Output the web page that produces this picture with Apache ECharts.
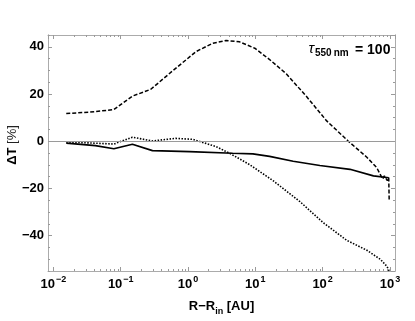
<!DOCTYPE html>
<html><head><meta charset="utf-8">
<script src="https://cdn.jsdelivr.net/npm/echarts@6/dist/echarts.min.js"></script>
<style>html,body{margin:0;padding:0;background:#fff}#c{width:415px;height:321px}</style>
</head><body><div id="c"></div>
<script>
// ---- data ----
const dashedX = [0.0155, 0.034, 0.079, 0.149, 0.28, 0.59, 1.32, 2.33, 3.69, 5.83, 9.8, 16.3, 29, 57.7, 115, 241, 454, 637, 713, 782, 826, 915, 960, 975];
const dashedY = [11.7, 12.3, 13.4, 19.1, 22.0, 29.8, 38.0, 41.5, 42.7, 42.1, 39.4, 34.6, 28.5, 18.9, 8.6, 0, -6.8, -11.2, -13.9, -16.0, -14.7, -16.7, -15.4, -24.9];

const solidX = [0.0155, 0.042, 0.079, 0.149, 0.296, 1.05, 4.6, 9.2, 16.3, 36.5, 91, 255, 569, 960];
const solidY = [-0.8, -1.9, -3.2, -1.3, -4.0, -4.4, -5.1, -5.4, -6.4, -8.5, -10.3, -11.9, -14.7, -15.5];

const dottedX = [0.0155, 0.079, 0.149, 0.296, 0.66, 1.17, 2.62, 4.13, 5.83, 8.2, 18.3, 46, 102, 228, 454, 717, 902, 975];
const dottedY = [-0.3, -1.2, 1.7, 0.1, 1.2, 0.8, -2.3, -5.1, -7.5, -9.9, -16.7, -25.6, -34.5, -42, -46.2, -50, -53, -55];

const xMajorTicks = [0.01, 0.1, 1, 10, 100, 1000];
const xMinorTicks = [];
xMajorTicks.forEach(d => { for (let k = 2; k <= 9; k++) xMinorTicks.push(+(k * d).toPrecision(3)); });
const yTickLabels = [-40, -20, 0, 20, 40];

const xMin = 0.0083, xMax = 1190;
const yMin = -55, yMax = 45;

const FONT = "'Liberation Sans', Arial, Helvetica, sans-serif";
const frameColor = '#ababab';
const tickColor = '#9a9a9a';

function pairs(xs, ys) { return xs.map((x, i) => [x, ys[i]]); }

const chart = echarts.init(document.getElementById('c'), null, {renderer: 'canvas'});

const supRich = {
  b: {fontFamily: FONT, fontWeight: 'bold', fontSize: 13, color: '#000', lineHeight: 16, verticalAlign: 'bottom'},
  s: {fontFamily: FONT, fontWeight: 'bold', fontSize: 9, color: '#000', lineHeight: 16, verticalAlign: 'top', padding: [0, 0, 0, 1]}
};

function xLabel(v) {
  const e = Math.log10(v);
  const r = Math.round(e);
  if (Math.abs(e - r) > 1e-6) return '';
  const es = r < 0 ? '\u2212' + (-r) : String(r);
  return '{b|10}{s|' + es + '}';
}

const tickAxisCommon = {
  axisLine: {show: true, onZero: false, lineStyle: {color: frameColor, width: 1}},
  splitLine: {show: false}
};

const option = {
  animation: false,
  backgroundColor: '#fff',
  grid: {left: 48, right: 20, top: 35, bottom: 41, containLabel: false},
  xAxis: [
    Object.assign({
      type: 'log', logBase: 10, min: xMin, max: xMax, position: 'bottom',
      axisTick: {show: true, inside: true, length: 4, lineStyle: {color: tickColor}},
      axisLabel: {formatter: xLabel, rich: supRich, margin: 4, showMinLabel: false, showMaxLabel: false, hideOverlap: false},
      name: '{a|R\u2212R}{s|in}{a| [AU]}', nameLocation: 'middle', nameGap: 29,
      nameTextStyle: {rich: {
        a: {fontFamily: FONT, fontWeight: 'bold', fontSize: 13, color: '#000', lineHeight: 16, verticalAlign: 'top'},
        s: {fontFamily: FONT, fontWeight: 'bold', fontSize: 9, color: '#000', lineHeight: 16, verticalAlign: 'bottom'}
      }}
    }, tickAxisCommon),
    Object.assign({
      type: 'log', logBase: 10, min: xMin, max: xMax, position: 'top',
      axisTick: {show: true, inside: true, length: 4, lineStyle: {color: tickColor}},
      axisLabel: {show: false}
    }, tickAxisCommon)
  ],
  yAxis: [
    Object.assign({
      type: 'value', min: yMin, max: yMax, splitNumber: 5, position: 'left',
      axisTick: {show: true, inside: true, length: 4, lineStyle: {color: tickColor}},
      axisLabel: {
        showMinLabel: false, showMaxLabel: false, margin: 4,
        fontFamily: FONT, fontWeight: 'bold', fontSize: 13, color: '#000',
        formatter: v => yTickLabels.indexOf(v) >= 0 ? (v < 0 ? '\u2212' + (-v) : String(v)) : ''
      }
    }, tickAxisCommon),
    Object.assign({
      type: 'value', min: yMin, max: yMax, interval: 5, position: 'left',
      axisTick: {show: true, inside: true, length: 2, lineStyle: {color: tickColor}},
      axisLabel: {show: false}
    }, tickAxisCommon),
    Object.assign({
      type: 'value', min: yMin, max: yMax, splitNumber: 5, position: 'right',
      axisTick: {show: true, inside: true, length: 4, lineStyle: {color: tickColor}},
      axisLabel: {show: false}
    }, tickAxisCommon),
    Object.assign({
      type: 'value', min: yMin, max: yMax, interval: 5, position: 'right',
      axisTick: {show: true, inside: true, length: 2, lineStyle: {color: tickColor}},
      axisLabel: {show: false}
    }, tickAxisCommon)
  ],
  graphic: [
    {
      type: 'text', x: 12, y: 145, rotation: Math.PI / 2,
      style: {
        text: '{a|\u0394T }{b|[%]}', align: 'center', verticalAlign: 'middle',
        rich: {
          a: {fontFamily: FONT, fontWeight: 'bold', fontSize: 13, fill: '#000'},
          b: {fontFamily: FONT, fontWeight: 'normal', fontSize: 13, fill: '#222'}
        }
      }
    },
    {
      type: 'text', x: 308.5, y: 49,
      style: {text: '\u03c4', fontFamily: FONT, fontStyle: 'italic', fontSize: 15, fill: '#000', verticalAlign: 'middle'}
    },
    {
      type: 'text', x: 315, y: 53,
      style: {text: '550\u2009nm', fontFamily: FONT, fontWeight: 'bold', fontSize: 10, fill: '#000', verticalAlign: 'middle'}
    },
    {
      type: 'text', x: 355, y: 50,
      style: {text: '= 100', fontFamily: FONT, fontWeight: 'bold', fontSize: 14, fill: '#000', verticalAlign: 'middle'}
    }
  ],
  series: [
    {
      type: 'custom', xAxisIndex: 0, yAxisIndex: 0, silent: true, clip: false, z: 1,
      data: xMinorTicks.filter(v => v > xMin && v < xMax).map(v => [v, 0]),
      renderItem(params, api) {
        const x = Math.round(api.coord([api.value(0), 0])[0]) + 0.5;
        const cs = params.coordSys;
        const style = {stroke: tickColor, lineWidth: 1, fill: null};
        const yb = cs.y + cs.height;
        return {type: 'group', children: [
          {type: 'line', shape: {x1: x, y1: yb, x2: x, y2: yb - 2}, style},
          {type: 'line', shape: {x1: x, y1: cs.y, x2: x, y2: cs.y + 2}, style}
        ]};
      }
    },
    {
      type: 'line', name: 'solid', data: pairs(solidX, solidY), showSymbol: false, symbol: 'none',
      lineStyle: {color: '#000', width: 1.7, type: 'solid'}, z: 3,
      markLine: {
        silent: true, symbol: ['none', 'none'], label: {show: false},
        lineStyle: {color: '#9a9a9a', width: 1, type: 'solid'},
        data: [{yAxis: 0}]
      }
    },
    {
      type: 'line', name: 'dashed', data: pairs(dashedX, dashedY), showSymbol: false, symbol: 'none',
      lineStyle: {color: '#000', width: 1.5, type: [4, 2]}, z: 3
    },
    {
      type: 'line', name: 'dotted', data: pairs(dottedX, dottedY), showSymbol: false, symbol: 'none',
      lineStyle: {color: '#000', width: 1.6, type: [1.5, 1.5]}, z: 3
    }
  ]
};
chart.setOption(option);
</script>
</body></html>
